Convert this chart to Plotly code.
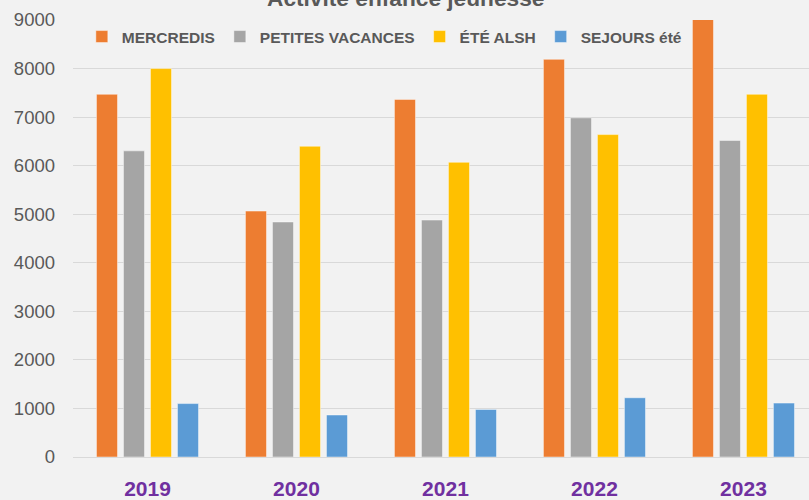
import plotly.graph_objects as go

years = ["2019", "2020", "2021", "2022", "2023"]
mercredis = [7470, 5065, 7365, 8190, 9010]
petites_vacances = [6305, 4840, 4880, 6985, 6520]
ete_alsh = [8000, 6400, 6070, 6640, 7470]
sejours_ete = [1100, 865, 980, 1220, 1110]

series_names = ["MERCREDIS", "PETITES VACANCES", "ÉTÉ ALSH", "SEJOURS été"]
series_values = [mercredis, petites_vacances, ete_alsh, sejours_ete]
colors = ["#ed7d31", "#a5a5a5", "#ffc000", "#5b9bd5"]

y_ticks = [0, 1000, 2000, 3000, 4000, 5000, 6000, 7000, 8000, 9000]
chart_title = "Activité enfance jeunesse"

fig = go.Figure()
for name, vals, col in zip(series_names, series_values, colors):
    fig.add_trace(go.Bar(
        x=years, y=vals, name=name,
        marker=dict(color=col, line=dict(color="rgba(255,255,255,0.45)", width=1)),
    ))

fig.add_annotation(text="<b>" + chart_title + "</b>", x=0.452, xref="paper", xanchor="center",
                   y=1.0496, yref="paper", yanchor="middle", showarrow=False,
                   font=dict(size=22.7, color="#595959"))

fig.update_layout(
    width=809, height=500,
    paper_bgcolor="#f2f2f2", plot_bgcolor="#f2f2f2",
    margin=dict(l=73, r=0, t=20, b=43),
    barmode="group", bargap=0.275, bargroupgap=0.22,
    font=dict(family="Liberation Sans, Arial, sans-serif", color="#595959"),
    legend=dict(orientation="h", x=0.012, xanchor="left", y=1.0, yanchor="top",
                bgcolor="rgba(0,0,0,0)",
                font=dict(size=15.5, color="#595959", weight="bold"),
                itemwidth=30, traceorder="normal"),
    showlegend=True,
)
fig.update_xaxes(type="category", range=[-0.5, 4.44], showgrid=False,
                 showline=True, linecolor="#d9d9d9", linewidth=1, zeroline=False,
                 tickfont=dict(size=21, color="#7030a0", weight="bold"),
                 ticklabelstandoff=13)
fig.update_yaxes(range=[0, 9000], tickvals=y_ticks, showgrid=True, gridcolor="#d9d9d9",
                 gridwidth=1, zeroline=False, showline=False,
                 tickfont=dict(size=18.5, color="#595959"), ticklabelstandoff=17)

fig.write_html(
    "out.html",
    config={"displayModeBar": False},
    post_script="document.body.style.margin='0';document.body.style.background='#f2f2f2';",
)
